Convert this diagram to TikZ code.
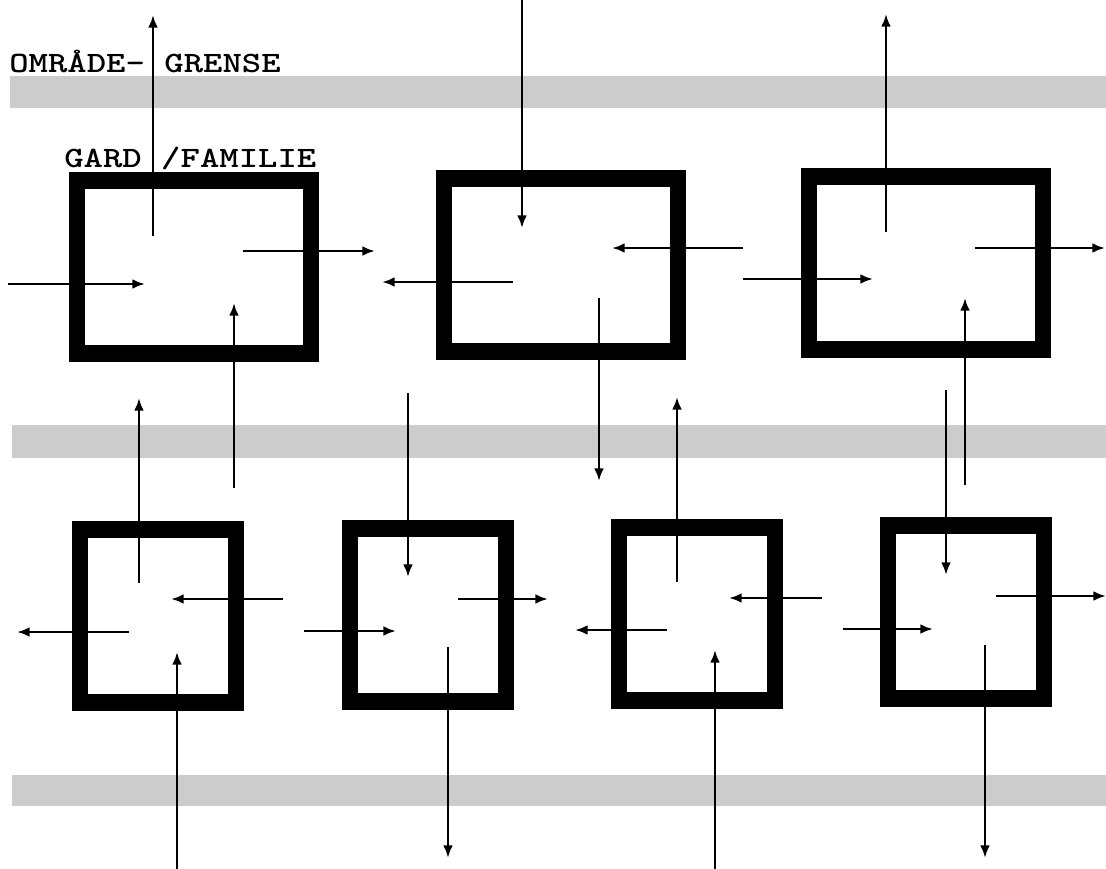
\documentclass[tikz,border=0pt]{standalone}
\usepackage{fontspec}
\usetikzlibrary{arrows.meta}
\tikzset{>={Latex[length=9pt,width=7pt]}}

\begin{document}
\begin{tikzpicture}[x=0.025cm, y=-0.025cm,
  band/.style={fill=black!20, draw=none},
  farm/.style={draw=black, line width=12pt, inner sep=0pt, outer sep=0pt},
  bigfarm/.style={farm, minimum width=5.85cm, minimum height=4.32cm},
  smallfarm/.style={farm, minimum width=3.9cm, minimum height=4.33cm},
  flow/.style={->, line width=1.8pt},
  lbl/.style={font=\ttfamily\bfseries\fontsize{21}{25}\selectfont, inner sep=0pt, anchor=base west, xscale=1.25}]
\useasboundingbox (0,0) rectangle (1106,869);

% grey area borders
\fill[band] (10,76) rectangle (1106,108);
\fill[band] (12,425) rectangle (1106,458);
\fill[band] (12,775) rectangle (1106,806);

% farms
\node[bigfarm] (b1) at (194,267) {};
\node[bigfarm] (b2) at (561,265) {};
\node[bigfarm] (b3) at (926,263) {};
\node[smallfarm] (b4) at (158,616) {};
\node[smallfarm] (b5) at (428,615) {};
\node[smallfarm] (b6) at (697,614) {};
\node[smallfarm] (b7) at (966,612) {};

\node[lbl] (omr) at (9,72) {OMRÅDE- GRENSE};
\node[lbl] (gard) at (64,167) {GARD /FAMILIE};

% free ends of the flows
\coordinate (b1up) at (153,236);   \coordinate (b1upE) at (153,15);
\coordinate (b1inW) at (8,284);    \coordinate (b1inWE) at (145,284);
\coordinate (b1out) at (243,251);  \coordinate (b1outE) at (375,251);
\coordinate (b1inS) at (234,488);  \coordinate (b1inSE) at (234,303);
\coordinate (b2inN) at (522,0);    \coordinate (b2inNE) at (522,228);
\coordinate (b2inE) at (743,248);  \coordinate (b2inEE) at (612,248);
\coordinate (b2out) at (513,282);  \coordinate (b2outE) at (382,282);
\coordinate (b2dn) at (599,298);   \coordinate (b2dnE) at (599,481);
\coordinate (b3up) at (886,232);   \coordinate (b3upE) at (886,14);
\coordinate (b3inW) at (743,279);  \coordinate (b3inWE) at (873,279);
\coordinate (b3out) at (975,248);  \coordinate (b3outE) at (1105,248);
\coordinate (b3inS) at (965,485);  \coordinate (b3inSE) at (965,298);

\coordinate (b4up) at (139,583);   \coordinate (b4upE) at (139,398);
\coordinate (b4inE) at (283,599);  \coordinate (b4inEE) at (171,599);
\coordinate (b4out) at (129,632);  \coordinate (b4outE) at (17,632);
\coordinate (b4inS) at (177,869);  \coordinate (b4inSE) at (177,652);
\coordinate (b5inN) at (408,393);  \coordinate (b5inNE) at (408,577);
\coordinate (b5inW) at (304,631);  \coordinate (b5inWE) at (396,631);
\coordinate (b5out) at (458,599);  \coordinate (b5outE) at (548,599);
\coordinate (b5dn) at (448,647);   \coordinate (b5dnE) at (448,858);
\coordinate (b6up) at (677,582);   \coordinate (b6upE) at (677,397);
\coordinate (b6inE) at (822,598);  \coordinate (b6inEE) at (729,598);
\coordinate (b6out) at (667,630);  \coordinate (b6outE) at (575,630);
\coordinate (b6inS) at (715,869);  \coordinate (b6inSE) at (715,650);
\coordinate (b7inN) at (946,390);  \coordinate (b7inNE) at (946,575);
\coordinate (b7inW) at (843,629);  \coordinate (b7inWE) at (933,629);
\coordinate (b7out) at (996,596);  \coordinate (b7outE) at (1106,596);
\coordinate (b7dn) at (985,645);   \coordinate (b7dnE) at (985,858);

\draw[flow] (b1up) -- (b1upE);
\draw[flow] (b1inW) -- (b1inWE);
\draw[flow] (b1out) -- (b1outE);
\draw[flow] (b1inS) -- (b1inSE);
\draw[flow] (b2inN) -- (b2inNE);
\draw[flow] (b2inE) -- (b2inEE);
\draw[flow] (b2out) -- (b2outE);
\draw[flow] (b2dn) -- (b2dnE);
\draw[flow] (b3up) -- (b3upE);
\draw[flow] (b3inW) -- (b3inWE);
\draw[flow] (b3out) -- (b3outE);
\draw[flow] (b3inS) -- (b3inSE);

\draw[flow] (b4up) -- (b4upE);
\draw[flow] (b4inE) -- (b4inEE);
\draw[flow] (b4out) -- (b4outE);
\draw[flow] (b4inS) -- (b4inSE);
\draw[flow] (b5inN) -- (b5inNE);
\draw[flow] (b5inW) -- (b5inWE);
\draw[flow] (b5out) -- (b5outE);
\draw[flow] (b5dn) -- (b5dnE);
\draw[flow] (b6up) -- (b6upE);
\draw[flow] (b6inE) -- (b6inEE);
\draw[flow] (b6out) -- (b6outE);
\draw[flow] (b6inS) -- (b6inSE);
\draw[flow] (b7inN) -- (b7inNE);
\draw[flow] (b7inW) -- (b7inWE);
\draw[flow] (b7out) -- (b7outE);
\draw[flow] (b7dn) -- (b7dnE);
\end{tikzpicture}
\end{document}
